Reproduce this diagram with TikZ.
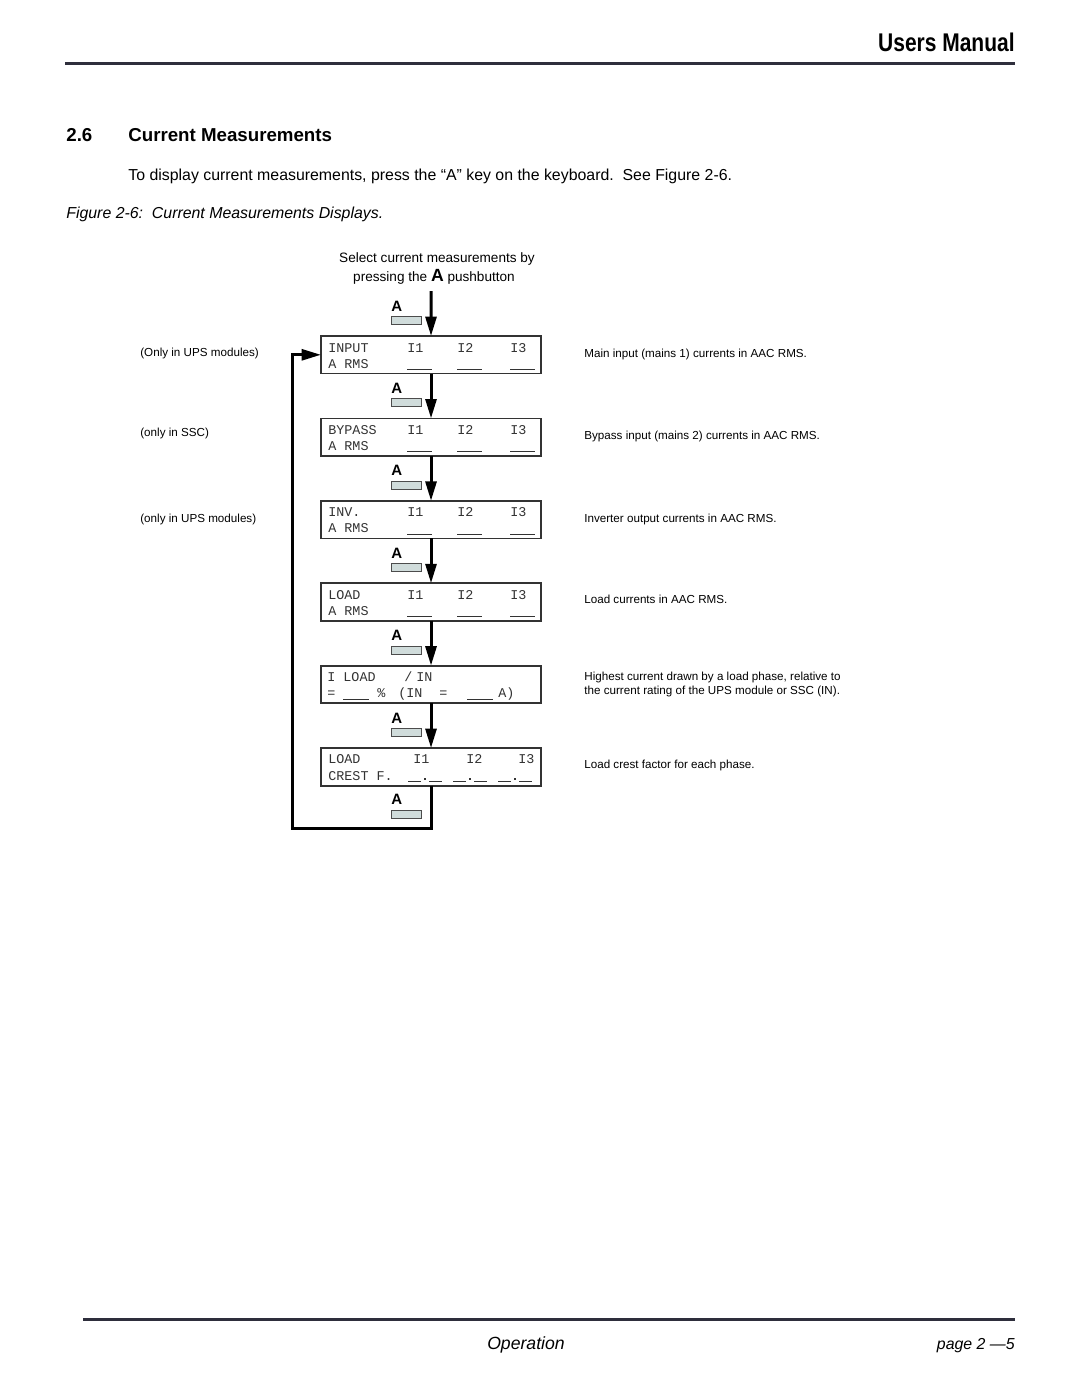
\documentclass[tikz,border=0pt]{standalone}
\usepackage{fontspec}
\setmainfont{Liberation Sans}
\newfontfamily\lcdfont{Liberation Mono}
\newfontfamily\narrowfont[FakeStretch=0.82]{Liberation Sans}
\usetikzlibrary{
  positioning,
  arrows.meta
}
\definecolor{keygrey}{HTML}{D0DCDB}
\definecolor{rulegrey}{HTML}{2E2E3C}

\begin{document}
\begin{tikzpicture}[
    x=0.5667pt,y=-0.5667pt,
    lcdBox/.style={draw=black!80,line width=1pt,minimum width=124.7pt,minimum height=21.3pt,inner sep=0pt,outer sep=0pt},
    lcdText/.style={font=\lcdfont\fontsize{7.6}{8}\selectfont,text=black!80,inner sep=0pt,anchor=base west},
    lcdLine/.style={draw=black!80,line width=0.6pt},
    keyLabel/.style={font=\bfseries\fontsize{8.5}{9}\selectfont,inner sep=0pt,anchor=base west},
    keyButton/.style={draw=black!70,fill=keygrey,line width=0.5pt,minimum width=17pt,minimum height=4.5pt,inner sep=0pt,anchor=north west},
    flow/.style={line width=1.7pt,line join=miter,-{Triangle[length=11pt,width=6.2pt]}},
    note/.style={font=\fontsize{6.6}{8}\selectfont,inner sep=0pt,anchor=base west},
    rule/.style={draw=rulegrey,line width=1.7pt}
  ]
    \fill[white] (0,0) rectangle (1080,1397);
    \useasboundingbox (0,0) rectangle (1080,1397);

    % page head
    \node[anchor=base east,inner sep=0pt,font=\narrowfont\bfseries\fontsize{14.5}{16}\selectfont] (header) at (1015,51) {Users Manual};
    \draw[rule] (65,63) -- (1015,63);
    \node[anchor=base west,inner sep=0pt,font=\bfseries\fontsize{10.6}{12}\selectfont] (secnum) at (66,141) {2.6};
    \node[anchor=base west,inner sep=0pt,font=\bfseries\fontsize{10.6}{12}\selectfont] (sectitle) at (128,141) {Current Measurements};
    \node[anchor=base west,inner sep=0pt,font=\fontsize{9}{11}\selectfont] (intro) at (128,180) {To display current measurements, press the “A” key on the keyboard.\ \ See Figure 2-6.};
    \node[anchor=base west,inner sep=0pt,font=\itshape\fontsize{9}{11}\selectfont] (caption) at (66,218) {Figure 2-6:\ \ Current Measurements Displays.};

    % displays
    \node[note,anchor=base] (select1) at (437,262) {\fontsize{7.7}{9}\selectfont Select current measurements by};
    \node[note,anchor=base] (select2) at (434,281) {\fontsize{7.7}{9}\selectfont pressing the {\bfseries\fontsize{10}{10}\selectfont A} pushbutton};
    \coordinate (start) at (431,291);

    \node[lcdBox,anchor=north west] (input) at (321,336) {};
    \node[lcdBox,below=25.4pt of input] (bypass) {};
    \node[lcdBox,below=25.4pt of bypass] (inv) {};
    \node[lcdBox,below=25.4pt of inv] (load) {};
    \node[lcdBox,below=25.4pt of load] (ratio) {};
    \node[lcdBox,below=25.4pt of ratio] (crest) {};

    \foreach \name/\title in {input/INPUT,bypass/BYPASS,inv/INV.,load/LOAD} {
      \node[lcdText] (\name-title) at ([shift={(7,16)}]\name.north west) {\title};
      \node[lcdText] (\name-i1) at ([shift={(86,16)}]\name.north west) {I1};
      \node[lcdText] (\name-i2) at ([shift={(136,16)}]\name.north west) {I2};
      \node[lcdText] (\name-i3) at ([shift={(189,16)}]\name.north west) {I3};
      \node[lcdText] (\name-unit) at ([shift={(7,32)}]\name.north west) {A RMS};
      \foreach \x in {86,136,189}
        \draw[lcdLine] ([shift={(\x,33.5)}]\name.north west) -- ++(25,0);
    }

    \node[lcdText] (ratio-title) at ([shift={(6,16)}]ratio.north west) {I LOAD};
    \node[lcdText] (ratio-slash) at ([shift={(83,16)}]ratio.north west) {/};
    \node[lcdText] (ratio-in) at ([shift={(95,16)}]ratio.north west) {IN};
    \node[lcdText] (ratio-eq) at ([shift={(6,32)}]ratio.north west) {=};
    \draw[lcdLine] ([shift={(22,33.5)}]ratio.north west) -- ++(26,0);
    \node[lcdText] (ratio-pct) at ([shift={(56,32)}]ratio.north west) {\%};
    \node[lcdText] (ratio-rated) at ([shift={(77,32)}]ratio.north west) {(IN};
    \node[lcdText] (ratio-eq2) at ([shift={(118,32)}]ratio.north west) {=};
    \draw[lcdLine] ([shift={(146,33.5)}]ratio.north west) -- ++(26,0);
    \node[lcdText] (ratio-amp) at ([shift={(177,32)}]ratio.north west) {A)};

    \node[lcdText] (crest-title) at ([shift={(7,15)}]crest.north west) {LOAD};
    \node[lcdText] (crest-i1) at ([shift={(92,15)}]crest.north west) {I1};
    \node[lcdText] (crest-i2) at ([shift={(145,15)}]crest.north west) {I2};
    \node[lcdText] (crest-i3) at ([shift={(197,15)}]crest.north west) {I3};
    \node[lcdText] (crest-unit) at ([shift={(7,32)}]crest.north west) {CREST F.};
    \foreach \g in {0,1,2} {
      \draw[lcdLine] ([shift={(87+45*\g,33.5)}]crest.north west) -- ++(13,0);
      \fill[black!80] ([shift={(103+45*\g,30)}]crest.north west) rectangle ++(2,2);
      \draw[lcdLine] ([shift={(108+45*\g,33.5)}]crest.north west) -- ++(13,0);
    }

    % A pushbuttons
    \foreach \name in {input,bypass,inv,load,ratio,crest} {
      \node[keyLabel] (\name-key) at ([shift={(70,-25)}]\name.north west) {A};
      \node[keyButton] (\name-btn) at ([shift={(70,-20)}]\name.north west) {};
    }
    \node[keyLabel] (last-key) at ([shift={(70,19)}]crest.south west) {A};
    \node[keyButton] (last-btn) at ([shift={(70,24)}]crest.south west) {};

    % flow
    \draw[flow] (start) -- (input);
    \foreach \a/\b in {input/bypass,bypass/inv,inv/load,load/ratio,ratio/crest}
      \draw[flow] (\a) -- (\b);
    \coordinate (loop) at (292.5,828);
    \draw[flow] (crest.south) |- (loop) |- (input.west);

    % notes
    \node[note] (noteUps) at (140,356.5) {(Only in UPS modules)};
    \node[note] (noteSsc) at (140,436.5) {(only in SSC)};
    \node[note] (noteInv) at (140,522.5) {(only in UPS modules)};
    \node[note] (descInput) at (584,357.5) {Main input (mains 1) currents in AAC RMS.};
    \node[note] (descBypass) at (584,439.5) {Bypass input (mains 2) currents in AAC RMS.};
    \node[note] (descInv) at (584,522.5) {Inverter output currents in AAC RMS.};
    \node[note] (descLoad) at (584,603.5) {Load currents in AAC RMS.};
    \node[note] (descRatio1) at (584,680.5) {Highest current drawn by a load phase, relative to};
    \node[note] (descRatio2) at (584,694.5) {the current rating of the UPS module or SSC (IN).};
    \node[note] (descCrest) at (584,768.5) {Load crest factor for each phase.};

    % page foot
    \draw[rule] (83,1319) -- (1015,1319);
    \node[anchor=base,inner sep=0pt,font=\itshape\fontsize{10}{12}\selectfont] (chapter) at (526,1349) {Operation};
    \node[anchor=base east,inner sep=0pt,font=\itshape\fontsize{9}{11}\selectfont] (pageno) at (1015,1349) {page 2 —5};
\end{tikzpicture}
\end{document}
